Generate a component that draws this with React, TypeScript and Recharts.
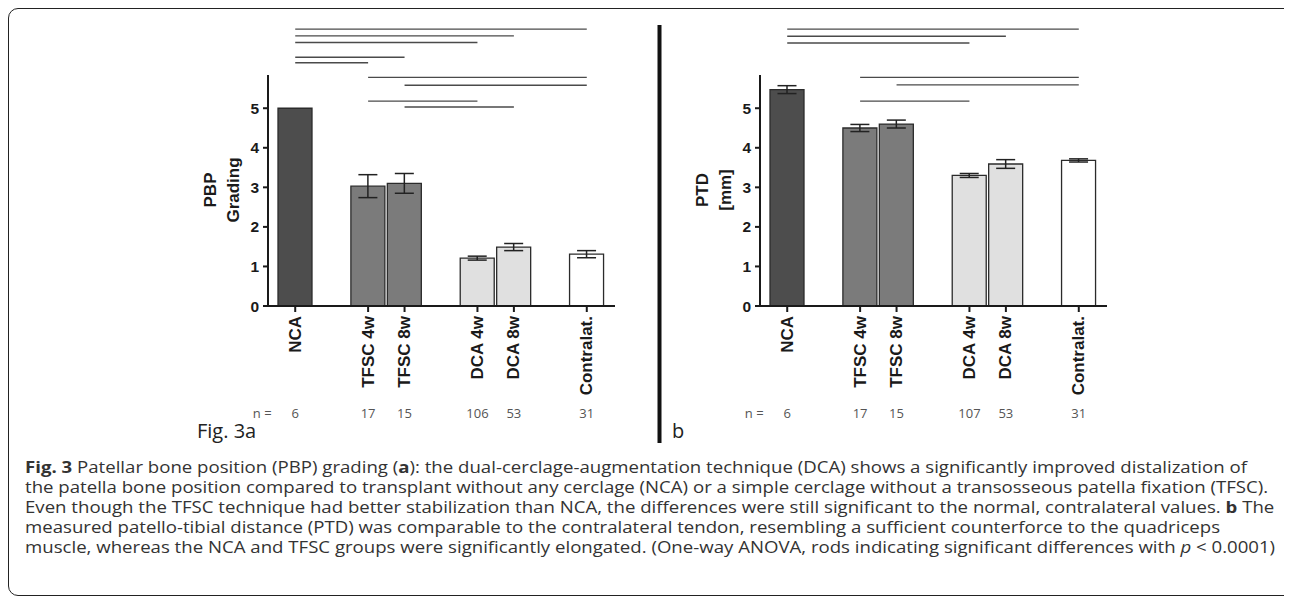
import { Bar, BarChart, Cell, ErrorBar, ReferenceLine, XAxis, YAxis } from "recharts";

// groups on the x axis: NCA | TFSC 4w, 8w | DCA 4w, 8w | contralateral
const categories = ["NCA", "TFSC 4w", "TFSC 8w", "DCA 4w", "DCA 8w", "Contralat."];
const groups = [0, 1, 1, 2, 2, 3];

// (a) patellar bone position grading, mean and SEM
const pbpMean = [5.0, 3.03, 3.1, 1.21, 1.49, 1.31];
const pbpSem = [0, 0.29, 0.25, 0.05, 0.09, 0.09];
const pbpN = [6, 17, 15, 106, 53, 31];

// (b) patello-tibial distance [mm], mean and SEM
const ptdMean = [5.47, 4.5, 4.6, 3.3, 3.59, 3.68];
const ptdSem = [0.1, 0.09, 0.1, 0.05, 0.11, 0.04];
const ptdN = [6, 17, 15, 107, 53, 31];

const yTicks = [0, 1, 2, 3, 4, 5];

// significance rods: from, to, height on the value scale
const pbpSig: [string, string, number][] = [
  ["NCA", "Contralat.", 7.0],
  ["NCA", "DCA 8w", 6.83],
  ["NCA", "DCA 4w", 6.66],
  ["NCA", "TFSC 8w", 6.29],
  ["NCA", "TFSC 4w", 6.15],
  ["TFSC 4w", "Contralat.", 5.78],
  ["TFSC 8w", "Contralat.", 5.58],
  ["TFSC 4w", "DCA 4w", 5.18],
  ["TFSC 8w", "DCA 8w", 5.03],
];
const ptdSig: [string, string, number][] = [
  ["NCA", "Contralat.", 7.0],
  ["NCA", "DCA 8w", 6.82],
  ["NCA", "DCA 4w", 6.65],
  ["TFSC 4w", "Contralat.", 5.78],
  ["TFSC 8w", "Contralat.", 5.59],
  ["TFSC 4w", "DCA 4w", 5.18],
];

const groupFills = ["#4d4d4d", "#7b7b7b", "#e0e0e0", "#ffffff"];
const INK = "#1a1a1a";
const ARIAL = "'Liberation Sans', Arial, Helvetica, sans-serif";
const OPEN = "'Open Sans', 'Noto Sans', sans-serif";

type Row = { name: string; value: number | null; err: number | null; n: number | null; group: number };

function buildRows(mean: number[], sem: number[], n: number[]): Row[] {
  const rows: Row[] = [];
  categories.forEach((name, i) => {
    if (i > 0 && groups[i] !== groups[i - 1]) {
      rows.push({ name: `gap${i}`, value: null, err: null, n: null, group: -1 });
    }
    rows.push({ name, value: mean[i], err: sem[i], n: n[i], group: groups[i] });
  });
  return rows;
}

function CategoryTick(props: any) {
  const { x, y, payload, rows } = props;
  const name: string = payload.value;
  if (name.startsWith("gap")) return null;
  const row = rows.find((r: Row) => r.name === name);
  const ly = y + 4;
  return (
    <g>
      <line x1={x} x2={x} y1={y - 6} y2={y} stroke={INK} strokeWidth={2} />
      <text
        x={x}
        y={ly}
        transform={`rotate(-90 ${x} ${ly})`}
        textAnchor="end"
        dominantBaseline="central"
        fontFamily={ARIAL}
        fontWeight="bold"
        fontSize={17}
        fill={INK}
      >
        {name}
      </text>
      <text x={x} y={y + 101} textAnchor="middle" dominantBaseline="central" fontFamily={OPEN} fontSize={13} fill="#555">
        {row?.n}
      </text>
      {name === categories[0] && (
        <text x={x - 33} y={y + 101} textAnchor="middle" dominantBaseline="central" fontFamily={OPEN} fontSize={13} fill="#555">
          n =
        </text>
      )}
    </g>
  );
}

function GroupChart({ rows, sig }: { rows: Row[]; sig: [string, string, number][] }) {
  return (
    <BarChart width={450} height={420} data={rows} margin={{ top: 60, right: 15, left: 48, bottom: 19 }}>
      <XAxis
        dataKey="name"
        type="category"
        height={110}
        interval={0}
        padding={{ left: 9, right: 10 }}
        axisLine={{ stroke: INK, strokeWidth: 2 }}
        tickLine={false}
        tickSize={6}
        tickMargin={0}
        tick={(p: any) => <CategoryTick {...p} rows={rows} />}
      />
      <YAxis
        type="number"
        width={40}
        domain={[0, 5.84]}
        ticks={yTicks}
        allowDataOverflow
        axisLine={{ stroke: INK, strokeWidth: 2 }}
        tickLine={{ stroke: INK, strokeWidth: 2 }}
        tickSize={5}
        tickMargin={4}
        tick={{ fontFamily: ARIAL, fontWeight: "bold", fontSize: 15.5, fill: INK }}
      />
      <Bar dataKey="value" barSize={34} stroke="#2b2b2b" strokeWidth={1.3} isAnimationActive={false}>
        {rows.map((r) => (
          <Cell key={r.name} fill={r.group >= 0 ? groupFills[r.group] : "none"} />
        ))}
        <ErrorBar dataKey="err" width={9.5} stroke="#222" strokeWidth={1.5} direction="y" isAnimationActive={false} />
      </Bar>
      {sig.map(([from, to, level]) => (
        <ReferenceLine
          key={`${from}-${to}`}
          segment={[
            { x: from, y: level },
            { x: to, y: level },
          ]}
          stroke="#4a4a4a"
          strokeWidth={1.4}
          ifOverflow="visible"
        />
      ))}
    </BarChart>
  );
}

export default function App() {
  const pbpRows = buildRows(pbpMean, pbpSem, pbpN);
  const ptdRows = buildRows(ptdMean, ptdSem, ptdN);

  return (
    <div style={{ position: "relative", width: 1284, height: 591, overflow: "hidden", background: "#fff" }}>
      <div
        style={{
          position: "absolute",
          left: 0,
          top: 0,
          width: 1287,
          height: 588,
          boxSizing: "border-box",
          border: "1.5px solid #222",
          borderRadius: 10,
        }}
      />
      <div style={{ position: "absolute", left: 172, top: 7 }}>
        <GroupChart rows={pbpRows} sig={pbpSig} />
      </div>
      <div style={{ position: "absolute", left: 664, top: 7 }}>
        <GroupChart rows={ptdRows} sig={ptdSig} />
      </div>
      <svg width={1284} height={591} style={{ position: "absolute", left: 0, top: 0, pointerEvents: "none" }}>
        <g fontFamily={ARIAL} fontWeight="bold" fontSize={17} fill={INK} textAnchor="middle" dominantBaseline="central">
          <text x={202} y={182} transform="rotate(-90 202 182)">PBP</text>
          <text x={225} y={182} transform="rotate(-90 225 182)">Grading</text>
          <text x={694} y={182} transform="rotate(-90 694 182)">PTD</text>
          <text x={717} y={182} transform="rotate(-90 717 182)">[mm]</text>
        </g>
        <line x1={651.5} x2={651.5} y1={17} y2={435} stroke="#111" strokeWidth={4} />
        <text x={189} y={430} fontFamily={OPEN} fontSize={20} fill="#222">
          Fig. 3a
        </text>
        <text x={664} y={430} fontFamily={OPEN} fontSize={20} fill="#222">
          b
        </text>
      </svg>
      <div
        style={{
          position: "absolute",
          left: 17,
          top: 449,
          fontFamily: OPEN,
          fontSize: 16.5,
          lineHeight: "20px",
          color: "#333",
          whiteSpace: "nowrap",
          transform: "scaleX(1.128)",
          transformOrigin: "left top",
        }}
      >
        <div>
          <b>Fig. 3</b> Patellar bone position (PBP) grading (<b>a</b>): the dual-cerclage-augmentation technique (DCA) shows
          a significantly improved distalization of
        </div>
        <div>
          the patella bone position compared to transplant without any cerclage (NCA) or a simple cerclage without a
          transosseous patella fixation (TFSC).
        </div>
        <div>
          Even though the TFSC technique had better stabilization than NCA, the differences were still significant to the
          normal, contralateral values. <b>b</b> The
        </div>
        <div>
          measured patello-tibial distance (PTD) was comparable to the contralateral tendon, resembling a sufficient
          counterforce to the quadriceps
        </div>
        <div>
          muscle, whereas the NCA and TFSC groups were significantly elongated. (One-way ANOVA, rods indicating significant
          differences with <i>p</i> &lt; 0.0001)
        </div>
      </div>
    </div>
  );
}
